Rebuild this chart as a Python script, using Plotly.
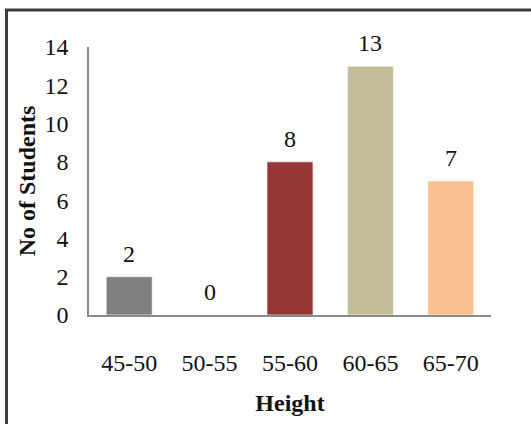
import plotly.graph_objects as go

# Height classes and student counts
height_classes = ["45-50", "50-55", "55-60", "60-65", "65-70"]
students = [2, 0, 8, 13, 7]
bar_colors = ["#808080", "#4F81BD", "#953735", "#C4BD97", "#FAC090"]
y_ticks = [0, 2, 4, 6, 8, 10, 12, 14]

W, H = 531, 424
ML, MR, MT, MB = 89, 40, 47, 105
plot_w = W - ML - MR
plot_h = H - MT - MB

serif = "Liberation Serif, Times New Roman, serif"
text_color = "#111111"

fig = go.Figure(
    go.Bar(
        x=height_classes,
        y=students,
        marker=dict(color=bar_colors, line=dict(color="rgba(255,255,255,0.6)", width=1)),
        hoverinfo="x+y",
    )
)

# value labels above each bar
for cat, val in zip(height_classes, students):
    fig.add_annotation(
        x=cat, y=val, text=str(val), showarrow=False,
        yanchor="middle", yshift=23,
        font=dict(family=serif, size=24, color=text_color),
    )

# outer chart frame (runs off the right and bottom edges)
def px_to_paper_x(px):
    return (px - ML) / plot_w

def px_to_paper_y(py):
    return (H - MB - py) / plot_h

fig.add_shape(
    type="rect", xref="paper", yref="paper",
    x0=px_to_paper_x(6.5), x1=px_to_paper_x(545),
    y0=px_to_paper_y(440), y1=px_to_paper_y(9.5),
    line=dict(color="#3c3c3c", width=3), fillcolor="rgba(0,0,0,0)",
    layer="above",
)

fig.update_layout(
    width=W, height=H,
    margin=dict(l=ML, r=MR, t=MT, b=MB),
    paper_bgcolor="white", plot_bgcolor="white",
    showlegend=False,
    bargap=0.428,
    font=dict(family=serif, color=text_color),
    xaxis=dict(
        range=[-0.5, 4.5],
        showgrid=False, zeroline=False,
        showline=True, linecolor="#8a8a8a", linewidth=1.5,
        ticks="", ticklabelstandoff=25,
        tickfont=dict(family=serif, size=24, color=text_color),
        title=dict(text="<b>Height</b>", standoff=20,
                   font=dict(family=serif, size=24, color=text_color)),
    ),
    yaxis=dict(
        range=[0, 14], tickvals=y_ticks,
        showgrid=False, zeroline=False,
        showline=True, linecolor="#8a8a8a", linewidth=1.5,
        ticks="", ticklabelstandoff=14,
        tickfont=dict(family=serif, size=24, color=text_color),
        title=dict(text="<b>No of Students</b>", standoff=2,
                   font=dict(family=serif, size=24, color=text_color)),
    ),
)

fig.write_html("out.html")
